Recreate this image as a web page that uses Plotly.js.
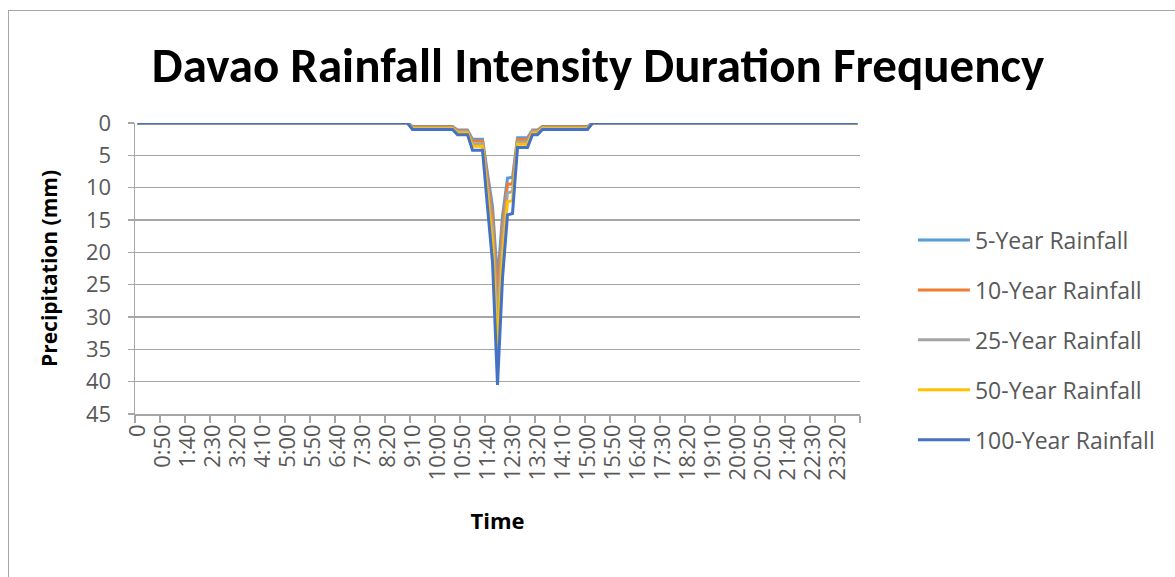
<!DOCTYPE html>
<html><head><meta charset="utf-8">
<script src="https://cdn.plot.ly/plotly-3.0.1.min.js"></script>
<style>
html,body{margin:0;padding:0;background:#fff;}
#chart{width:1175px;height:577px;position:absolute;left:0;top:0;}
#frame{position:absolute;left:8px;top:10px;width:1167px;height:567px;border-left:1.5px solid #a6a6a6;border-top:1.5px solid #a6a6a6;pointer-events:none;}
</style></head><body>
<div id="chart"></div><div id="frame"></div>
<script>
const times = [
"0","0:10","0:20","0:30","0:40","0:50","1:00","1:10","1:20","1:30",
"1:40","1:50","2:00","2:10","2:20","2:30","2:40","2:50","3:00","3:10",
"3:20","3:30","3:40","3:50","4:00","4:10","4:20","4:30","4:40","4:50",
"5:00","5:10","5:20","5:30","5:40","5:50","6:00","6:10","6:20","6:30",
"6:40","6:50","7:00","7:10","7:20","7:30","7:40","7:50","8:00","8:10",
"8:20","8:30","8:40","8:50","9:00","9:10","9:20","9:30","9:40","9:50",
"10:00","10:10","10:20","10:30","10:40","10:50","11:00","11:10","11:20","11:30",
"11:40","11:50","12:00","12:10","12:20","12:30","12:40","12:50","13:00","13:10",
"13:20","13:30","13:40","13:50","14:00","14:10","14:20","14:30","14:40","14:50",
"15:00","15:10","15:20","15:30","15:40","15:50","16:00","16:10","16:20","16:30",
"16:40","16:50","17:00","17:10","17:20","17:30","17:40","17:50","18:00","18:10",
"18:20","18:30","18:40","18:50","19:00","19:10","19:20","19:30","19:40","19:50",
"20:00","20:10","20:20","20:30","20:40","20:50","21:00","21:10","21:20","21:30",
"21:40","21:50","22:00","22:10","22:20","22:30","22:40","22:50","23:00","23:10",
"23:20","23:30","23:40","23:50","24:00"];

const seriesNames = ["5-Year Rainfall","10-Year Rainfall","25-Year Rainfall","50-Year Rainfall","100-Year Rainfall"];

const rain5 = [
0,0,0,0,0,0,0,0,0,0,
0,0,0,0,0,0,0,0,0,0,
0,0,0,0,0,0,0,0,0,0,
0,0,0,0,0,0,0,0,0,0,
0,0,0,0,0,0,0,0,0,0,
0,0,0,0,0,0.55,0.55,0.55,0.55,0.55,
0.55,0.55,0.55,0.55,1.08,1.08,1.08,2.5,2.5,2.5,
7.8,12.9,24.3,14.4,8.5,8.4,2.3,2.3,2.3,1.08,
1.08,0.55,0.55,0.55,0.55,0.55,0.55,0.55,0.55,0.55,
0.55,0,0,0,0,0,0,0,0,0,
0,0,0,0,0,0,0,0,0,0,
0,0,0,0,0,0,0,0,0,0,
0,0,0,0,0,0,0,0,0,0,
0,0,0,0,0,0,0,0,0,0,
0,0,0,0,0];

const rain10 = [
0,0,0,0,0,0,0,0,0,0,
0,0,0,0,0,0,0,0,0,0,
0,0,0,0,0,0,0,0,0,0,
0,0,0,0,0,0,0,0,0,0,
0,0,0,0,0,0,0,0,0,0,
0,0,0,0,0,0.6,0.6,0.6,0.6,0.6,
0.6,0.6,0.6,0.6,1.2,1.2,1.2,2.8,2.8,2.8,
8.7,14.4,27.1,16.1,9.5,9.4,2.55,2.55,2.55,1.2,
1.2,0.6,0.6,0.6,0.6,0.6,0.6,0.6,0.6,0.6,
0.6,0,0,0,0,0,0,0,0,0,
0,0,0,0,0,0,0,0,0,0,
0,0,0,0,0,0,0,0,0,0,
0,0,0,0,0,0,0,0,0,0,
0,0,0,0,0,0,0,0,0,0,
0,0,0,0,0];

const rain25 = [
0,0,0,0,0,0,0,0,0,0,
0,0,0,0,0,0,0,0,0,0,
0,0,0,0,0,0,0,0,0,0,
0,0,0,0,0,0,0,0,0,0,
0,0,0,0,0,0,0,0,0,0,
0,0,0,0,0,0.75,0.75,0.75,0.75,0.75,
0.75,0.75,0.75,0.75,1.35,1.35,1.35,3.2,3.2,3.2,
9.9,16.3,30.8,18.2,10.8,10.6,2.9,2.9,2.9,1.35,
1.35,0.75,0.75,0.75,0.75,0.75,0.75,0.75,0.75,0.75,
0.75,0,0,0,0,0,0,0,0,0,
0,0,0,0,0,0,0,0,0,0,
0,0,0,0,0,0,0,0,0,0,
0,0,0,0,0,0,0,0,0,0,
0,0,0,0,0,0,0,0,0,0,
0,0,0,0,0];

const rain50 = [
0,0,0,0,0,0,0,0,0,0,
0,0,0,0,0,0,0,0,0,0,
0,0,0,0,0,0,0,0,0,0,
0,0,0,0,0,0,0,0,0,0,
0,0,0,0,0,0,0,0,0,0,
0,0,0,0,0,0.85,0.85,0.85,0.85,0.85,
0.85,0.85,0.85,0.85,1.55,1.55,1.55,3.6,3.6,3.6,
11.2,18.5,35.0,20.6,12.2,12.0,3.3,3.3,3.3,1.55,
1.55,0.85,0.85,0.85,0.85,0.85,0.85,0.85,0.85,0.85,
0.85,0,0,0,0,0,0,0,0,0,
0,0,0,0,0,0,0,0,0,0,
0,0,0,0,0,0,0,0,0,0,
0,0,0,0,0,0,0,0,0,0,
0,0,0,0,0,0,0,0,0,0,
0,0,0,0,0];

const rain100 = [
0,0,0,0,0,0,0,0,0,0,
0,0,0,0,0,0,0,0,0,0,
0,0,0,0,0,0,0,0,0,0,
0,0,0,0,0,0,0,0,0,0,
0,0,0,0,0,0,0,0,0,0,
0,0,0,0,0,1.0,1.0,1.0,1.0,1.0,
1.0,1.0,1.0,1.0,1.8,1.8,1.8,4.2,4.2,4.2,
13.0,21.5,40.5,24.0,14.2,14.0,3.8,3.8,3.8,1.8,
1.8,1.0,1.0,1.0,1.0,1.0,1.0,1.0,1.0,1.0,
1.0,0,0,0,0,0,0,0,0,0,
0,0,0,0,0,0,0,0,0,0,
0,0,0,0,0,0,0,0,0,0,
0,0,0,0,0,0,0,0,0,0,
0,0,0,0,0,0,0,0,0,0,
0,0,0,0,0];

const seriesValues = [rain5, rain10, rain25, rain50, rain100];
const seriesColors = ["#5B9BD5","#ED7D31","#A5A5A5","#FFC000","#4472C4"];

const traces = seriesValues.map((vals, i) => ({
  type: "scatter",
  mode: "lines",
  x: times,
  y: vals,
  name: seriesNames[i],
  legendgroup: "g" + i,
  line: {color: seriesColors[i], width: 3},
  hoverinfo: "skip"
}));

const titleFont = "Carlito, 'Open Sans', sans-serif";
const bodyFont = "'Open Sans', 'DejaVu Sans', sans-serif";

const layout = {
  width: 1175, height: 577,
  margin: {l: 135, r: 315, t: 123, b: 163},
  paper_bgcolor: "#fff", plot_bgcolor: "#fff",
  showlegend: true,
  title: {
    text: "<b>Davao Rainfall Intensity Duration Frequency</b>",
    font: {family: titleFont, size: 49, color: "#000"},
    x: 0.509, xanchor: "center", xref: "container",
    y: 1 - 65/577, yanchor: "middle", yref: "container"
  },
  xaxis: {
    type: "category",
    categoryorder: "array",
    categoryarray: times,
    range: [-0.5, 144.5],
    tickmode: "linear", tick0: 0, dtick: 5,
    tickson: "boundaries",
    ticks: "outside", ticklen: 7, tickcolor: "#a6a6a6", tickwidth: 1.2,
    tickangle: -90,
    tickfont: {family: bodyFont, size: 22, color: "#595959"},
    showline: true, linecolor: "#a6a6a6", linewidth: 1.5,
    showgrid: false, zeroline: false,
    automargin: false,
    title: {text: "<b>Time</b>", font: {family: bodyFont, size: 22, color: "#000"}, standoff: 34}
  },
  yaxis: {
    range: [45, 0],
    tickmode: "linear", tick0: 0, dtick: 5,
    ticks: "outside", ticklen: 6, tickcolor: "#a6a6a6", tickwidth: 1.2,
    tickfont: {family: bodyFont, size: 22, color: "#595959"},
    ticklabelstandoff: 12,
    showline: true, linecolor: "#a6a6a6", linewidth: 1.5,
    showgrid: true, gridcolor: "#a6a6a6", gridwidth: 1.5,
    zeroline: false,
    automargin: false,
    title: {text: "<b>Precipitation (mm)</b>", font: {family: bodyFont, size: 21, color: "#000"}, standoff: 22}
  },
  legend: {
    x: 1.073, xanchor: "left",
    y: 0.254, yanchor: "middle",
    traceorder: "grouped",
    tracegroupgap: 17,
    font: {family: bodyFont, size: 23, color: "#595959"},
    bgcolor: "rgba(0,0,0,0)",
    itemwidth: 52
  }
};

Plotly.newPlot("chart", traces, layout, {displayModeBar: false, staticPlot: true});
</script>
</body></html>
